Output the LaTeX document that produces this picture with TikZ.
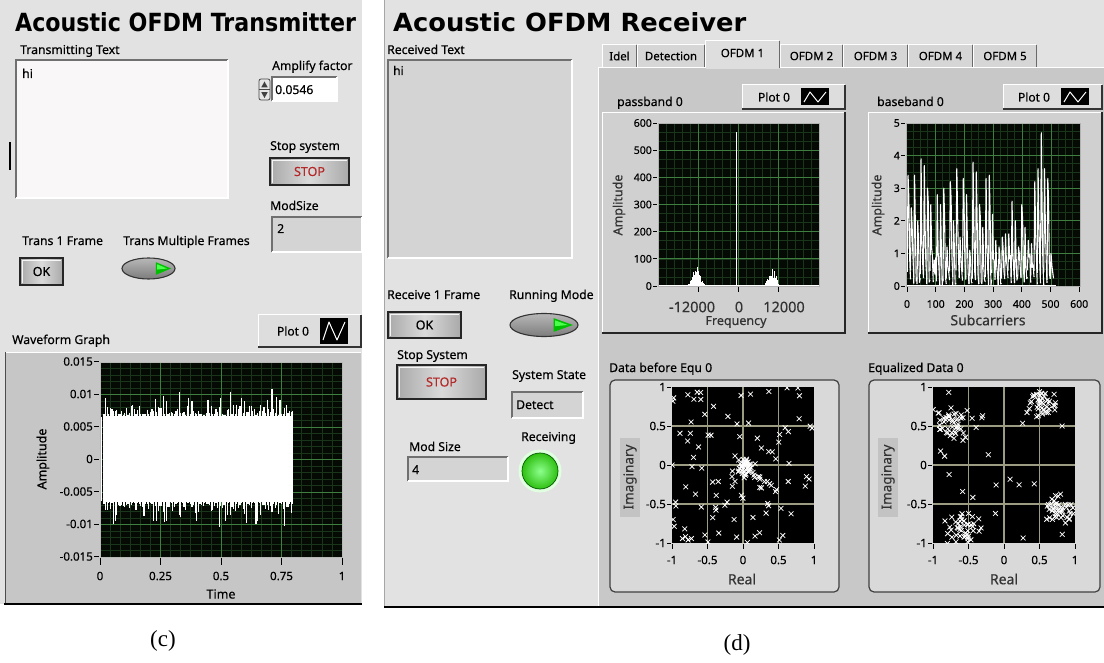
\documentclass[tikz,border=0pt]{standalone}
\usepackage{fontspec}
\setmainfont{Noto Sans}[FakeBold=0.35]
\newfontfamily\titlefont{DejaVu Sans}
\newfontfamily\capfont{Liberation Serif}
\newcommand\fsz[1]{\fontsize{#1}{#1}\selectfont}

\definecolor{panelbg}{HTML}{E2E2E2}
\definecolor{tabbody}{HTML}{C8C8C8}
\definecolor{tabfill}{HTML}{D6D6D6}
\definecolor{tabsel}{HTML}{DEDEDE}
\definecolor{tabedge}{HTML}{6A6A6A}
\definecolor{graphbg}{HTML}{C6C6C6}
\definecolor{framebg}{HTML}{D0D0D0}
\definecolor{plotbg}{HTML}{050A05}
\definecolor{gmaj}{HTML}{3E7E3E}
\definecolor{gmin}{HTML}{1A361A}
\definecolor{cgrid}{HTML}{9C9C82}
\definecolor{edgedark}{HTML}{707070}
\definecolor{stopred}{HTML}{B42828}
\definecolor{ledgreen}{HTML}{2FC012}
\definecolor{axtext}{HTML}{333333}
\definecolor{txbox}{HTML}{F9F7F7}
\definecolor{fieldgray}{HTML}{D4D4D4}
\definecolor{legfill}{HTML}{DDDDDD}
\definecolor{btnside}{HTML}{A9A9A9}
\definecolor{btnmid}{HTML}{DADADA}
\definecolor{togtop}{HTML}{B8B8B8}
\definecolor{togbot}{HTML}{7C7C7C}
\definecolor{consframe}{HTML}{D9D9D9}
\definecolor{imagbox}{HTML}{C3C3C3}

\tikzset{
  lbl/.style={anchor=base west, inner sep=0pt, font=\fsz{12.2}},
  titlestyle/.style={anchor=base west, inner sep=0pt, font=\titlefont\bfseries\fsz{25}},
  tablbl/.style={inner sep=0pt, font=\fsz{11.5}},
  legtxt/.style={inner sep=0pt, font=\fsz{12}},
  ticklbl/.style={inner sep=0pt, font=\fsz{11.5}},
  smalltick/.style={inner sep=0pt, font=\fsz{10.5}},
  axlbl/.style={inner sep=0pt, font=\fsz{12.5}, text=axtext},
  bigtick/.style={inner sep=0pt, font=\fsz{14.5}, text=axtext},
  btntxt/.style={inner sep=0pt, font=\fsz{12.5}},
  stoptxt/.style={inner sep=0pt, font=\fsz{12.5}, text=stopred},
  tickmark/.style={black, line width=0.8},
  sig/.style={white, line width=1.1},
  cpt/.style={white, line width=0.75},
  capstyle/.style={inner sep=0pt, font=\capfont\fsz{23}},
}

% recessed field
\newcommand\uisunken[5]{%
  \fill[#5] (#1,#2) rectangle (#3,#4);
  \draw[edgedark, line width=1.4] (#1,#4) -- (#1,#2) -- (#3,#2);
  \draw[white, line width=1.2] (#3,#2) -- (#3,#4) -- (#1,#4);
}
% push button
\newcommand\uibutton[4]{%
  \shade[left color=btnside, right color=btnside, middle color=btnmid] (#1,#2) rectangle (#3,#4);
  \draw[white!92!gray, line width=0.8] ({#1+2},{#4-2}) -- ({#1+2},{#2+2}) -- ({#3-2},{#2+2});
  \draw[black!85, line width=1.4] (#1,#2) rectangle (#3,#4);
}
% oval switch with green arrow
\newcommand\uitoggle[4]{%
  \shade[top color=togtop, bottom color=togbot] (#1,#2) ellipse (#3pt and #4pt);
  \draw[black!80, line width=1.1] (#1,#2) ellipse (#3pt and #4pt);
  \fill[green!75!black] ({#1+0.28*#3},{#2-0.6*#4}) -- ({#1+0.85*#3},#2) -- ({#1+0.28*#3},{#2+0.6*#4}) -- cycle;
  \fill[green!70!white] ({#1+0.33*#3},{#2-0.4*#4}) -- ({#1+0.7*#3},#2) -- ({#1+0.33*#3},{#2+0.1*#4}) -- cycle;
}
% plot legend: x1 y1 x2 y2 swatch-left name
\newcommand\uilegend[6]{%
  \fill[legfill] (#1,#2) rectangle (#3,#4);
  \draw[white, line width=1] (#1,#4) -- (#1,#2) -- (#3,#2);
  \draw[gray!40!black, line width=1.3] (#1,#4) -- (#3,#4) -- (#3,#2);
  \node[legtxt] (#6) at ({#5-27},{(#2+#4)/2}) {Plot 0};
  \fill[black] (#5,{#2+3.5}) rectangle ({#5+28},{#4-3.5});
  \draw[white, line width=1, line join=round] ({#5+3},{#4-7}) -- ({#5+9},{#2+7}) -- ({#5+17},{#4-7}) -- ({#5+25},{#2+7});
}
% tab
\newcommand\uitab[4]{%
  \fill[tabfill, rounded corners=2pt] (#1,67) -- (#1,44) -- (#2,44) -- (#2,67) -- cycle;
  \draw[white, line width=1] ({#1+0.5},67) -- ({#1+0.5},44.5) -- ({#2-1},44.5);
  \draw[tabedge, line width=1.3] ({#2-0.6},45) -- ({#2-0.6},67);
  \node[tablbl] (#4) at ({(#1+#2)/2},56) {#3};
}
% constellation marker
\newcommand\xmk[2]{\draw[cpt] ({#1-2.4},{#2-2.4}) -- ({#1+2.4},{#2+2.4}) ({#1-2.4},{#2+2.4}) -- ({#1+2.4},{#2-2.4});}

\begin{document}
\begin{tikzpicture}[x=1pt,y=-1pt]
\pgfmathsetseed{2024}
\useasboundingbox (0,0) rectangle (1104,663);
\fill[white] (0,0) rectangle (1104,663);

%================ transmitter front panel ================
\fill[panelbg] (0,0) rectangle (362,604);
\draw[black, line width=1.5] (4,604) -- (362,604);
\node[titlestyle] (txtitle) at (15,32) {\scalebox{0.886}[1]{Acoustic OFDM Transmitter}};

\node[lbl] (txlabel) at (20,54) {Transmitting Text};
\uisunken{16}{60}{228}{198}{txbox}
\node[lbl] (txhi) at (22,78) {hi};
\draw[black, line width=1.5] (10,142) -- (10,170);

\node[lbl] (amplbl) at (272,70) {Amplify factor};
\fill[gray!20] (259,79) rectangle (270,100);
\draw[gray!55!black, line width=0.8, rounded corners=2pt] (259,79) rectangle (270,100);
\draw[gray!55!black, line width=0.6] (259,89.5) -- (270,89.5);
\fill[gray!50!black] (264.5,81.5) -- (261.3,87.3) -- (267.7,87.3) -- cycle;
\fill[gray!50!black] (264.5,98) -- (261.3,92.2) -- (267.7,92.2) -- cycle;
\uisunken{272}{77}{337}{101}{white}
\node[lbl] (ampval) at (275,94) {0.0546};

\node[lbl] (stoplbl) at (270,150) {Stop system};
\uibutton{270}{158}{349}{185}
\node[stoptxt] (stopbtn) at (309.5,171.5) {STOP};

\node[lbl] (modlbl) at (270,210) {ModSize};
\uisunken{272}{217}{362}{252}{fieldgray}
\node[lbl] (modval) at (277,233) {2};

\node[lbl] (t1lbl) at (22,245) {Trans 1 Frame};
\node[lbl] (tmlbl) at (123,245) {Trans Multiple Frames};
\uibutton{20}{258}{63}{285}
\node[btntxt] (okbtn) at (41.5,271.5) {OK};
\uitoggle{148.5}{268.5}{26.5}{10.5}

% waveform graph
\node[lbl] (wflbl) at (12,344) {Waveform Graph};
\uilegend{258}{315}{361}{347}{320}{wfleg}
\fill[graphbg] (5,352) rectangle (361,603);
\draw[white, line width=1] (5,352.5) -- (361,352.5);
\draw[gray!60!black, line width=0.8] (5.4,352) -- (5.4,603);
\fill[plotbg] (100,362) rectangle (342,557);
\begin{scope}
  \clip (100,362) rectangle (342,557);
  \foreach \k in {1,...,23} \draw[gmin, line width=0.6] ({100+\k*242/24},362) -- ++(0,195);
  \foreach \k in {1,...,29} \draw[gmin, line width=0.6] (100,{362+\k*6.5}) -- ++(242,0);
  \foreach \k in {1,2,3} \draw[gmaj, line width=0.9] ({100+\k*60.5},362) -- ++(0,195);
  \foreach \k in {1,...,5} \draw[gmaj, line width=0.9] (100,{362+\k*32.5}) -- ++(242,0);
  \fill[white] (104,416) rectangle (293,502);
  \foreach \k in {0,...,118}{
    \pgfmathsetmacro\xx{104+\k*1.6}
    \pgfmathsetmacro\up{44+13*rnd*rnd+(rnd>0.75)*20*rnd}
    \pgfmathsetmacro\dn{44+13*rnd*rnd+(rnd>0.75)*20*rnd}
    \draw[white, line width=1.2] (\xx,{459-\up}) -- (\xx,{459+\dn});
  }
  \draw[white, line width=1.8] (101.5,417) -- (101.5,501);
\end{scope}
\draw[gray!55, line width=0.8] (100,362) rectangle (342,557);
\foreach \v/\t [count=\k] in {0.015/0.015,0.01/0.01,0.005/0.005,0/0,-0.005/-0.005,-0.01/-0.01,-0.015/-0.015}{
  \node[ticklbl, anchor=east] (wfy\k) at (93,{459-6500*\v}) {\t};
  \draw[tickmark] (94,{459-6500*\v}) -- (99,{459-6500*\v});
}
\foreach \v/\t [count=\k] in {0/0,0.25/0.25,0.5/0.5,0.75/0.75,1/1}{
  \node[ticklbl] (wfx\k) at ({100+242*\v},576) {\t};
  \draw[tickmark] ({100+242*\v},558) -- ++(0,7);
}
\node[axlbl, text=black, font=\fsz{12.5}] (wftime) at (221,594) {Time};
\node[axlbl, text=black, font=\fsz{12.5}, rotate=90] (wfamp) at (43,459) {Amplitude};

%================ receiver front panel ================
\fill[panelbg] (384,0) rectangle (1104,607);
\draw[gray!70, line width=1] (384.5,0) -- (384.5,607);
\node[titlestyle] (rxtitle) at (393,32) {\scalebox{1.03}[1]{Acoustic OFDM Receiver}};

\node[lbl] (rxlabel) at (387,54) {Received Text};
\uisunken{388}{60}{572}{258}{fieldgray}
\node[lbl, font=\fsz{12}\bfseries] (rxhi) at (393,75) {hi};

\node[lbl] (r1lbl) at (387,299) {Receive 1 Frame};
\node[lbl] (rmlbl) at (509,299) {Running Mode};
\uibutton{388}{312}{461}{338}
\node[btntxt] (rxok) at (424.5,325) {OK};
\uitoggle{544}{325}{34}{11.5}

\node[lbl] (rstoplbl) at (397,359) {Stop System};
\uibutton{397}{365}{486}{399}
\node[stoptxt] (rxstop) at (441.5,382) {STOP};

\node[lbl] (statelbl) at (512,379) {System State};
\uisunken{512}{392}{583}{418}{fieldgray}
\node[lbl] (stateval) at (516,409) {Detect};

\node[lbl] (rmodlbl) at (409,451) {Mod Size};
\uisunken{408}{457}{508}{481}{fieldgray}
\node[lbl] (rmodval) at (412,474) {4};

\node[lbl] (recvlbl) at (521,441) {Receiving};
\fill[green!12!white] (540,471) circle (21.5pt);
\shade[inner color=green!45!white, outer color=ledgreen] (540,471) circle (18pt);
\draw[green!35!black, line width=0.7] (540,471) circle (18pt);

% tab control
\fill[tabbody] (598,67) rectangle (1104,606);
\draw[white, line width=1.2] (598.6,606) -- (598.6,67.6) -- (1104,67.6);
\uitab{602}{637}{Idel}{tabidle}
\uitab{637}{705}{Detection}{tabdet}
\uitab{780}{843}{OFDM 2}{tabo2}
\uitab{843}{908}{OFDM 3}{tabo3}
\uitab{908}{973}{OFDM 4}{tabo4}
\uitab{973}{1037}{OFDM 5}{tabo5}
\fill[tabsel, rounded corners=2pt] (705,69) -- (705,40) -- (780,40) -- (780,69) -- cycle;
\draw[white, line width=1.1] (705.5,68) -- (705.5,40.5) -- (779,40.5);
\draw[tabedge, line width=1.3] (779.4,41) -- (779.4,68);
\node[tablbl] (tabo1) at (742.5,53) {OFDM 1};

% passband spectrum
\node[lbl] (pblbl) at (617,106) {passband 0};
\uilegend{742}{85}{845}{109}{801}{pbleg}
\fill[framebg] (602,112) rectangle (845,333);
\draw[white, line width=1] (602.5,333) -- (602.5,112.5) -- (845,112.5);
\draw[gray!30!black, line width=1.4] (602,333) -- (845,333) -- (845,112);
\fill[plotbg] (658,123) rectangle (819,286);
\begin{scope}
  \clip (658,123) rectangle (819,286);
  \foreach \k in {1,...,19} \draw[gmin, line width=0.6] ({658+\k*161/20},123) -- ++(0,163);
  \foreach \k in {1,...,17} \draw[gmin, line width=0.6] (658,{123+\k*163/18}) -- ++(161,0);
  \foreach \k in {5,10,15} \draw[gmaj, line width=0.9] ({658+\k*161/20},123) -- ++(0,163);
  \foreach \k in {3,6,...,15} \draw[gmaj, line width=0.9] (658,{123+\k*163/18}) -- ++(161,0);
  \draw[white, line width=1.4] (658,285.3) -- (819,285.3);
  \draw[white, line width=1.6] (736.5,286) -- (736.5,132);
  \foreach \k in {0,...,24}{
    \pgfmathsetmacro\xx{688+\k*0.7}
    \pgfmathsetmacro\hh{(0.35+0.65*rnd)*21*exp(-(\k-12)*(\k-12)/60)}
    \draw[white, line width=0.8] (\xx,286) -- (\xx,{286-\hh});
  }
  \foreach \k in {0,...,22}{
    \pgfmathsetmacro\xx{765+\k*0.7}
    \pgfmathsetmacro\hh{(0.35+0.65*rnd)*20*exp(-(\k-10)*(\k-10)/55)}
    \draw[white, line width=0.8] (\xx,286) -- (\xx,{286-\hh});
  }
\end{scope}
\draw[gray!60, line width=0.8] (658,123) rectangle (819,286);
\foreach \v [count=\k] in {0,100,...,600}{
  \node[smalltick, anchor=east] (pby\k) at (652,{286-0.2717*\v}) {\v};
  \draw[tickmark] (653,{286-0.2717*\v}) -- (657,{286-0.2717*\v});
}
\foreach \x in {698.5,738.5,778.5} \draw[tickmark] (\x,287) -- ++(0,5);
\node[bigtick] (pbxm) at (692,307) {-12000};
\node[bigtick] (pbx0) at (739,307) {0};
\node[bigtick] (pbxp) at (784,307) {12000};
\node[axlbl] (pbfreq) at (736,322) {Frequency};
\node[axlbl, rotate=90] (pbamp) at (619,205) {Amplitude};

% baseband spectrum
\node[lbl] (bblbl) at (877,106) {baseband 0};
\uilegend{1003}{85}{1102}{109}{1061}{bbleg}
\fill[framebg] (868,112) rectangle (1102,333);
\draw[white, line width=1] (868.5,333) -- (868.5,112.5) -- (1102,112.5);
\draw[gray!30!black, line width=1.4] (868,333) -- (1102,333) -- (1102,112);
\fill[plotbg] (906,123) rectangle (1080,286);
\begin{scope}
  \clip (906,123) rectangle (1080,286);
  \foreach \k in {1,...,23} \draw[gmin, line width=0.6] ({906+\k*7.25},123) -- ++(0,163);
  \foreach \k in {1,...,19} \draw[gmin, line width=0.6] (906,{123+\k*8.15}) -- ++(174,0);
  \foreach \k in {4,8,...,20} \draw[gmaj, line width=0.9] ({906+\k*7.25},123) -- ++(0,163);
  \foreach \k in {4,8,12,16} \draw[gmaj, line width=0.9] (906,{123+\k*8.15}) -- ++(174,0);
  \draw[white, line width=1.4] (906,285.3) -- (1056,285.3);
  \foreach \v [count=\k] in {3.4,2.4,3.4,2.0,3.9,3.7,3.0,2.5,0.8,2.8,2.5,3.0,1.2,3.2,2.0,3.6,1.5,3.3,2.8,1.1,3.8,3.5,2.5,1.8,3.3,3.4,2.2,1.4,1.2,1.5,1.6,1.6,2.6,2.0,1.2,2.5,1.8,1.4,1.3,3.2,3.6,4.7,3.6,3.3,1.0}{
    \pgfmathsetmacro\xa{904+\k*3.25}
    \pgfmathsetmacro\lo{0.5*rnd}
    \pgfmathsetmacro\md{\v*(0.35+0.5*rnd)}
    \draw[sig, line join=round] (\xa,{286-32.6*\lo}) -- ({\xa+0.8},{286-32.6*\v}) -- ({\xa+1.6},{286-32.6*\md}) -- ({\xa+2.4},{286-32.6*\lo*2}) -- ({\xa+3.25},{286-32.6*0.3*rnd});
  }
\end{scope}
\draw[gray!60, line width=0.8] (906,123) rectangle (1080,286);
\foreach \v [count=\k] in {0,...,5}{
  \node[smalltick, anchor=east] (bby\k) at (900,{286-32.6*\v}) {\v};
  \draw[tickmark] (901,{286-32.6*\v}) -- (905,{286-32.6*\v});
}
\foreach \v [count=\k] in {0,100,...,600}{
  \node[smalltick] (bbx\k) at ({907+0.287*\v},304) {\v};
  \draw[tickmark] ({907+0.287*\v},287) -- ++(0,5);
}
\node[axlbl, font=\fsz{14}] (bbsub) at (988,320) {Subcarriers};
\node[axlbl, rotate=90] (bbamp) at (878,205) {Amplitude};

% constellation before equalization
\node[lbl] (celbl) at (609,372) {Data before Equ 0};
\fill[consframe, rounded corners=5pt] (610,380) rectangle (839,592);
\draw[black!75, line width=1.2, rounded corners=5pt] (610,380) rectangle (839,592);
\fill[imagbox] (620,438) rectangle (640,517);
\fill[black] (672,387) rectangle (814,543);
\begin{scope}
  \clip (672,387) rectangle (814,543);
  \foreach \k in {1,2,3} \draw[cgrid, line width=1.3] ({672+\k*35.5},387) -- ++(0,156);
  \foreach \k in {1,2,3} \draw[cgrid, line width=1.3] (672,{387+\k*39}) -- ++(142,0);
  \foreach \k in {1,...,38}{
    \pgfmathsetmacro\px{743+71*(0.02+0.065*(rand+rand))}
    \pgfmathsetmacro\py{465-78*(-0.03+0.065*(rand+rand))}
    \xmk{\px}{\py}}
  \foreach \k in {1,...,12}{
    \pgfmathsetmacro\px{743+71*(0.05+0.036*\k+0.03*rand)}
    \pgfmathsetmacro\py{465-78*(-0.04-0.025*\k+0.03*rand)}
    \xmk{\px}{\py}}
  \foreach \k in {1,...,95}{
    \pgfmathsetmacro\px{743+71*rand}
    \pgfmathsetmacro\py{465-78*rand}
    \xmk{\px}{\py}}
\end{scope}
\foreach \v/\t [count=\k] in {1/1,0.5/0.5,0/0,-0.5/-0.5,-1/-1}{
  \node[smalltick, font=\fsz{11.5}, anchor=east] (cly\k) at (666,{465-78*\v}) {\t};
  \draw[tickmark] (667,{465-78*\v}) -- (671,{465-78*\v});
  \draw[tickmark] ({743+71*\v},544) -- ++(0,5);
}
\node[smalltick, font=\fsz{11.5}] (clx1) at (672,560) {-1};
\node[smalltick, font=\fsz{11.5}] (clx2) at (707.5,560) {-0.5};
\node[smalltick, font=\fsz{11.5}] (clx3) at (743,560) {0};
\node[smalltick, font=\fsz{11.5}] (clx4) at (778.5,560) {0.5};
\node[smalltick, font=\fsz{11.5}] (clx5) at (814,560) {1};
\node[axlbl, font=\fsz{14}] (clreal) at (742,579) {Real};
\node[axlbl, font=\fsz{13.5}, rotate=90] (climag) at (630,477) {Imaginary};

% constellation after equalization
\node[lbl] (eqlbl) at (868,372) {Equalized Data 0};
\fill[consframe, rounded corners=5pt] (869,380) rectangle (1100,592);
\draw[black!75, line width=1.2, rounded corners=5pt] (869,380) rectangle (1100,592);
\fill[imagbox] (878,438) rectangle (898,517);
\fill[black] (933,387) rectangle (1075,543);
\begin{scope}
  \clip (933,387) rectangle (1075,543);
  \foreach \k in {1,2,3} \draw[cgrid, line width=1.3] ({933+\k*35.5},387) -- ++(0,156);
  \foreach \k in {1,2,3} \draw[cgrid, line width=1.3] (933,{387+\k*39}) -- ++(142,0);
  \foreach \cx/\cy in {-0.75/0.55,0.5/0.83,0.8/-0.55,-0.6/-0.8}{
    \foreach \k in {1,...,42}{
      \pgfmathsetmacro\px{1004+71*(\cx+0.14*(rand+rand))}
      \pgfmathsetmacro\py{465-78*(\cy+0.12*(rand+rand))}
      \xmk{\px}{\py}}}
  \foreach \k in {1,...,30}{
    \pgfmathsetmacro\px{1004+71*rand}
    \pgfmathsetmacro\py{465-78*rand}
    \xmk{\px}{\py}}
\end{scope}
\foreach \v/\t [count=\k] in {1/1,0.5/0.5,0/0,-0.5/-0.5,-1/-1}{
  \node[smalltick, font=\fsz{11.5}, anchor=east] (cry\k) at (927,{465-78*\v}) {\t};
  \draw[tickmark] (928,{465-78*\v}) -- (932,{465-78*\v});
  \draw[tickmark] ({1004+71*\v},544) -- ++(0,5);
}
\node[smalltick, font=\fsz{11.5}] (crx1) at (933,560) {-1};
\node[smalltick, font=\fsz{11.5}] (crx2) at (968.5,560) {-0.5};
\node[smalltick, font=\fsz{11.5}] (crx3) at (1004,560) {0};
\node[smalltick, font=\fsz{11.5}] (crx4) at (1039.5,560) {0.5};
\node[smalltick, font=\fsz{11.5}] (crx5) at (1075,560) {1};
\node[axlbl, font=\fsz{14}] (crreal) at (1004,579) {Real};
\node[axlbl, font=\fsz{13.5}, rotate=90] (crimag) at (888,477) {Imaginary};

\draw[black, line width=1.5] (384,607) -- (1104,607);

% captions
\node[capstyle] (capc) at (163,641) {(c)};
\node[capstyle] (capd) at (737,645) {(d)};
\end{tikzpicture}
\end{document}
